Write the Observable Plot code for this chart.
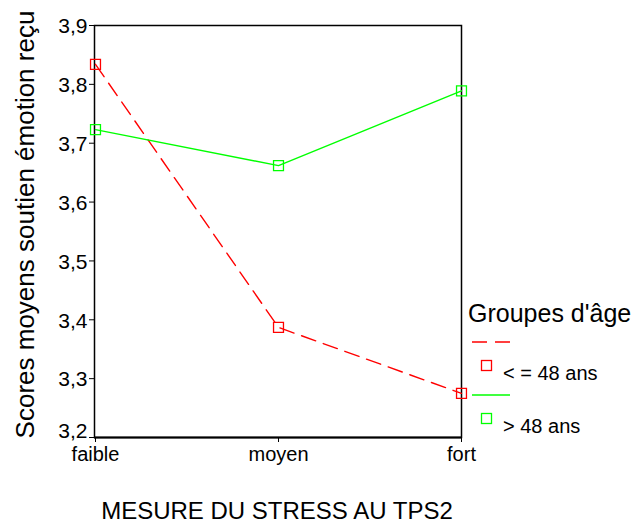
<!DOCTYPE html>
<html><head><meta charset="utf-8">
<script src="https://cdn.jsdelivr.net/npm/d3@7"></script>
<script src="https://cdn.jsdelivr.net/npm/@observablehq/plot@0.6"></script>
<style>
html,body{margin:0;padding:0;background:#fff;}
#wrap{position:relative;width:637px;height:523px;font-family:Arial,"Liberation Sans",sans-serif;}
#legend{position:absolute;left:0;top:0;overflow:visible;}
</style></head>
<body><div id="wrap"></div>
<script>
const categories = ["faible", "moyen", "fort"];
const groups = ["< = 48 ans", "> 48 ans"];
const young = [3.834, 3.387, 3.275];
const old = [3.723, 3.662, 3.789];
const yTicks = [3.2, 3.3, 3.4, 3.5, 3.6, 3.7, 3.8, 3.9];
const colors = ["#ff0000", "#00ff00"];
const xTitle = "MESURE DU STRESS AU TPS2";
const yTitle = "Scores moyens soutien émotion reçu";
const legendTitle = "Groupes d'âge";

const data = [];
categories.forEach((c, i) => {
  data.push({cat: c, grp: groups[0], v: young[i]});
  data.push({cat: c, grp: groups[1], v: old[i]});
});
const fmt = d => d.toFixed(1).replace(".", ",");
const font = 'Arial, "Liberation Sans", sans-serif';

const plot = Plot.plot({
  width: 637, height: 523,
  marginLeft: 94, marginRight: 176, marginTop: 25, marginBottom: 86,
  style: {fontFamily: font, background: "#fff"},
  x: {type: "point", domain: categories, padding: 0},
  y: {domain: [3.2, 3.9]},
  color: {domain: groups, range: colors},
  marks: [
    Plot.frame({stroke: "#000", strokeWidth: 1.5}),
    // tick marks for every y value
    Plot.axisY({ticks: yTicks, tickFormat: () => "", tickSize: 5, label: null, stroke: "#000"}),
    // labels (3,2 nudged up above the axis line, as in the original)
    Plot.axisY({ticks: yTicks.slice(1), tickFormat: fmt, tickSize: 0, tickPadding: 7, dy: 1, fontSize: 21, label: null}),
    Plot.axisY({ticks: yTicks.slice(0, 1), tickFormat: fmt, tickSize: 0, tickPadding: 7, dy: -6, fontSize: 21, label: null}),
    Plot.axisX({tickSize: 5, fontSize: 20, tickPadding: 4, label: null, stroke: "#000"}),
    Plot.ruleY([3.2], {stroke: "#000", strokeWidth: 2}),
    Plot.line(data.filter(d => d.grp === groups[0]), {x: "cat", y: "v", stroke: colors[0], strokeWidth: 1.4, strokeDasharray: "15,8"}),
    Plot.line(data.filter(d => d.grp === groups[1]), {x: "cat", y: "v", stroke: colors[1], strokeWidth: 1.4}),
    Plot.dot(data, {x: "cat", y: "v", stroke: "grp", symbol: "square", r: 5.6, strokeWidth: 1.3, fill: "none"}),
    Plot.text([yTitle], {frameAnchor: "left", textAnchor: "middle", lineAnchor: "middle", rotate: -90, dx: -69, dy: -7, fontSize: 26, text: d => d, fill: "#000"}),
    Plot.text([xTitle], {frameAnchor: "bottom", textAnchor: "middle", lineAnchor: "bottom", dy: 81, dx: -1, fontSize: 24, text: d => d, fill: "#000"})
  ]
});
const wrap = document.getElementById("wrap");
wrap.appendChild(plot);

// legend
const ns = "http://www.w3.org/2000/svg";
const leg = document.createElementNS(ns, "svg");
leg.setAttribute("id", "legend");
leg.setAttribute("width", 637);
leg.setAttribute("height", 523);
leg.setAttribute("font-family", font);
let s = `<text x="468" y="322" font-size="25" fill="#000">${legendTitle}</text>`;
groups.forEach((g, i) => {
  const off = i * 53;
  const dash = i === 0 ? 'stroke-dasharray="15,8"' : '';
  s += `<line x1="472" x2="510" y1="${342 + off}" y2="${342 + off}" stroke="${colors[i]}" stroke-width="1.4" ${dash}/>`;
  s += `<rect x="481.5" y="${360.5 + off}" width="10" height="10" fill="none" stroke="${colors[i]}" stroke-width="1.3"/>`;
  s += `<text x="503" y="${380 + off}" font-size="20" fill="#000">${g.replace("<", "&lt;").replace(">", "&gt;")}</text>`;
});
leg.innerHTML = s;
wrap.appendChild(leg);
</script>
</body></html>
